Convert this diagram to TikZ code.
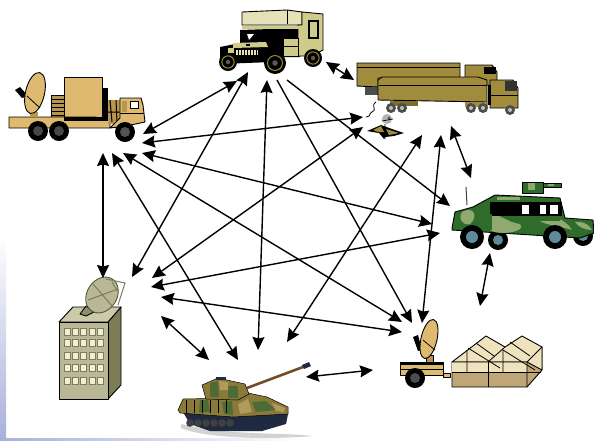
\documentclass[tikz,border=0pt]{standalone}
\usetikzlibrary{arrows.meta}
\definecolor{tan1}{HTML}{DDBA70}
\definecolor{tan2}{HTML}{B8964F}
\definecolor{olive1}{HTML}{A08C3C}
\definecolor{olive2}{HTML}{7F6E2A}
\definecolor{bld}{HTML}{B9B896}
\definecolor{bldtop}{HTML}{CBCBAC}
\definecolor{bldside}{HTML}{7C7C58}
\definecolor{pale}{HTML}{E6E2B8}
\definecolor{khaki}{HTML}{CFCB8A}
\definecolor{camoD}{HTML}{2F6B2A}
\definecolor{camoL}{HTML}{8FA96E}
\definecolor{tent}{HTML}{EFE3BD}
\definecolor{tentlow}{HTML}{BFA676}
\definecolor{tankBr}{HTML}{8A7A3A}
\definecolor{tankG}{HTML}{4F6B35}
\definecolor{tankL}{HTML}{B09A5C}
\definecolor{tankT}{HTML}{1F2A40}
\definecolor{hubblue}{HTML}{5F8A9C}
\definecolor{sideblue}{HTML}{A8B0DA}
\newcommand{\wheelat}[4]{\fill[black] (#1,#2) circle (#3); \fill[#4] (#1,#2) circle (#3*0.5);}
\newcommand{\rimwheel}[3]{\fill[black] (#1,#2) circle (#3); \draw[olive1,line width=1pt] (#1,#2) circle (#3*0.68); \fill[black!65] (#1,#2) circle (#3*0.25);}
\tikzset{
  link/.style={line width=1.4pt,{Stealth[length=13pt,width=12pt,inset=1.5pt]}-{Stealth[length=13pt,width=12pt,inset=1.5pt]}},
  oneway/.style={line width=1.4pt,-{Stealth[length=13pt,width=12pt,inset=1.5pt]}},
  ol/.style={draw=black,line width=0.9pt,line join=round},
}
\begin{document}
\begin{tikzpicture}[x=1pt,y=-1pt]
\useasboundingbox (0,0) rectangle (594,440);
\fill[white] (0,0) rectangle (594,440);
% side fade of the slide
\shade[top color=white,bottom color=sideblue] (0,235) rectangle (6,440);
\shade[left color=sideblue,right color=white] (0,438) rectangle (300,440);

% ---------- radar truck ----------
\fill[black] (102,88) rectangle (108,117);
\fill[tan2,ol] (51,95) rectangle (64,117);
\foreach \yy in {99,103,107,111,115} \draw[black,line width=0.8pt] (51,\yy) -- (64,\yy);
\fill[tan1,ol] (64,77) rectangle (102,117);
\fill[tan1,ol] (9,117) -- (95,117) -- (110,120) -- (110,128) -- (9,128) -- cycle;
\fill[black] (64,117) rectangle (108,121);
\fill[tan2] (108,100) rectangle (120,124);
\draw[black,line width=1pt] (110,100) -- (112,122) (116,100) -- (117,122) (108,112) -- (120,112);
\fill[tan1,ol] (120,98) -- (141,98) -- (143,105) -- (145,122) -- (126,126) -- (110,128) -- (120,118) -- cycle;
\fill[white,ol] (130,101) rectangle (138,108);
\fill[tan2] (122,101) rectangle (127,112);
\draw[black,line width=0.8pt] (120,113) -- (144,113);
\fill[black] (15,90) -- (20,87) -- (28,96) -- (22,98) -- cycle;
\fill[tan2] (30,112) rectangle (38,117);
\fill[tan1,ol,rotate around={-13:(35,93)}] (35,93) ellipse (9.5 and 21);
\draw[black,line width=0.8pt] (27,96) -- (40,108);
\wheelat{38}{131}{10}{gray!55!black}
\wheelat{59}{131}{10}{gray!55!black}
\wheelat{125}{132}{10}{gray!65!black}

% ---------- command truck ----------
\fill[black] (240,30) -- (300,28) -- (300,57) -- (240,57) -- cycle;
\fill[pale,ol] (242,12) -- (287,10) -- (302,12) -- (302,25) -- (242,25) -- cycle;
\draw[black,line width=0.8pt] (287,10) -- (287,24);
\fill[khaki,ol] (302,12) -- (323,14) -- (323,50) -- (312,56) -- (298,56) -- (298,25) -- (302,25) -- cycle;
\fill[khaki,draw=black,line width=1.2pt] (309,21) rectangle (318,38);
\fill[khaki] (242,26) rectangle (300,29);
\fill[white] (247,34) -- (254,34) -- (249,40) -- cycle;
\fill[black] (220,47) -- (240,43) -- (272,42) -- (272,62) -- (220,64) -- cycle;
\fill[khaki] (233,43) -- (266,42) -- (268,47) -- (233,48) -- cycle;
\fill[black] (246,44) rectangle (250,46);
\fill[pale] (236,50) rectangle (258,55);
\foreach \xx in {238,241,244,247,250,253,256} \draw[black,line width=0.6pt] (\xx,50) -- (\xx,55);
\fill[khaki] (228,48) rectangle (234,53);
\fill[khaki] (283,38) rectangle (298,56);
\draw[black,line width=0.8pt] (283,38) rectangle (298,56) (283,46) -- (298,46);
\rimwheel{228}{62}{9}
\rimwheel{275}{63}{11}
\rimwheel{313}{58}{9}

% ---------- double trailer truck ----------
\fill[olive1,ol] (465,65) -- (492,65) -- (497,72) -- (497,85) -- (465,85) -- cycle;
\fill[black] (484,67) rectangle (496,74);
\fill[olive1,ol] (357,63) -- (460,63) -- (460,78) -- (378,78) -- (378,87) -- (357,86) -- cycle;
\draw[black,line width=0.8pt] (357,67) -- (460,67);
\fill[gray!60!black] (365,87) rectangle (378,95);
\fill[olive1,ol] (490,80) -- (513,80) -- (518,88) -- (518,108) -- (490,108) -- cycle;
\fill[black!80] (505,81) rectangle (517,91);
\fill[black] (488,85) -- (491,85) -- (491,105) -- (488,105) -- cycle;
\draw[black,line width=0.8pt] (490,95) -- (518,95);
\fill[olive1,ol] (378,80) -- (382,77) -- (478,77) -- (487,80) -- (487,102) -- (378,100) -- cycle;
\draw[black,line width=0.8pt] (379,85) -- (487,85);
\fill[olive2] (390,101) rectangle (418,106);
\fill[olive1] (465,102) rectangle (488,107);
\foreach \xx/\yy in {391/108,402/108,471/108,483/108,510/110}{\fill[black!70] (\xx,\yy) circle (5); \fill[gray!50] (\xx,\yy) circle (2);}
\draw[black,line width=0.8pt] (376,102) .. controls (370,106) and (378,110) .. (372,112) .. controls (368,114) and (372,116) .. (366,117);

% ---------- small aircraft ----------
\fill[black] (367,131) -- (381,125) -- (392,129) -- (404,133) -- (394,136) -- (385,137) -- (384,139) -- (379,133) -- cycle;
\fill[olive1] (373,130) -- (381,126) -- (384,132) -- (378,132) -- cycle;
\fill[olive1] (386,129) -- (399,133) -- (389,135) -- cycle;
\fill[gray!60] (387,119) circle (5);
\fill[black!70] (389,118) circle (1.5);
\draw[black,line width=0.7pt] (382,121) -- (393,119) (385,139) -- (385,124);

% ---------- humvee ----------
\draw[gray!50!black,line width=1pt] (466,187) -- (467,205);
\fill[camoD,ol] (522,182) rectangle (543,193);
\fill[camoL] (528,183) rectangle (535,190);
\fill[camoD,ol] (543,183) rectangle (561,187);
\fill[camoL] (548,184) rectangle (554,186);
\wheelat{498}{240}{10}{hubblue}
\wheelat{583}{236}{10}{hubblue}
\fill[camoD,ol] (452,228) -- (455,212) -- (473,207) -- (495,195) -- (560,198) -- (565,218) -- (593,220) -- (594,233) -- (580,238) -- (452,230) -- cycle;
\begin{scope}
\clip (452,228) -- (455,212) -- (473,207) -- (495,195) -- (560,198) -- (565,218) -- (593,220) -- (594,233) -- (580,238) -- (452,230) -- cycle;
\fill[camoL] (462,212) .. controls (475,205) and (478,218) .. (470,224) .. controls (462,226) and (458,218) .. (462,212) -- cycle;
\fill[camoL] (488,216) .. controls (500,212) and (505,222) .. (520,224) .. controls (528,232) and (498,236) .. (490,230) -- cycle;
\fill[camoL] (535,218) .. controls (550,214) and (565,218) .. (572,230) .. controls (560,226) and (545,226) .. (535,218) -- cycle;
\fill[camoL] (497,197) rectangle (520,200);
\fill[camoL] (575,222) .. controls (585,221) and (590,226) .. (592,230) .. controls (585,230) and (578,227) .. (575,222) -- cycle;
\end{scope}
\fill[black] (490,202) rectangle (562,216);
\fill[camoD] (510,216) rectangle (560,221);
\fill[camoD] (488,214) rectangle (492,230);
\fill[white] (522,205) rectangle (529,214);
\fill[white] (540,205) rectangle (546,214);
\fill[white] (550,205) rectangle (558,214);
\wheelat{472}{237}{12}{hubblue}
\wheelat{555}{237}{12}{hubblue}

% ---------- building with dish ----------
\fill[bldside,ol] (108,322) -- (121,307) -- (121,385) -- (108,399) -- cycle;
\fill[bldtop,ol] (59,322) -- (73,307) -- (121,307) -- (108,322) -- cycle;
\fill[bld,ol] (59,322) rectangle (108,399);
\foreach \yy in {331.7,343.3,356,368.3,380.7}
  \foreach \xx in {67,75.3,83.7,92,100.7}
    \fill[pale!60!white,draw=bldside,line width=0.7pt] (\xx-3,\yy-3.5) rectangle (\xx+3,\yy+3.5);
\fill[bldside!70!bld,ol] (80,314) -- (86,306) -- (94,312) -- (86,316) -- cycle;
\fill[bld,draw=bldside!70!black,line width=0.9pt,rotate around={-33:(102,295)}] (102,295) ellipse (15 and 19);
\draw[bldside,line width=1pt] (93,284) -- (113,307) (88,300) -- (118,289);
\draw[bldside,line width=1pt] (106,279) -- (125,283) -- (118,305) (112,282) -- (118,292);

% ---------- tank ----------
\fill[gray!35] (181,424) .. controls (230,436) and (280,432) .. (313,436) .. controls (280,439) and (210,440) .. (181,428) -- cycle;
\draw[brown!60!black,line width=2.6pt] (247,388) -- (303,367);
\fill[tankT] (302,365) -- (309,362) -- (311,366) -- (304,369) -- cycle;
\fill[tankT] (183,412) -- (288,414) -- (286,424) -- (262,431) -- (210,431) -- (190,424) -- cycle;
\foreach \xx in {190,198,206,214,222,230} \fill[black!75] (\xx,423) circle (3.8);
\fill[tankBr,draw=black,line width=0.5pt] (178,410) -- (183,399) -- (235,398) -- (248,393) -- (267,397) -- (288,407) -- (288,414) -- (233,417) -- (180,413) -- cycle;
\fill[tankG] (200,400) -- (208,400) -- (210,412) -- (199,412) -- cycle;
\fill[tankG] (222,402) -- (232,401) -- (233,415) -- (224,414) -- cycle;
\fill[tankG] (252,402) -- (266,401) -- (276,410) -- (256,412) -- cycle;
\fill[tankL] (238,404) -- (248,399) -- (252,412) -- (240,414) -- cycle;
\fill[tankL] (272,403) -- (285,408) -- (284,412) -- (276,411) -- cycle;
\fill[tankBr,draw=black,line width=0.5pt] (202,385) -- (218,378) -- (245,384) -- (249,394) -- (238,400) -- (206,399) -- cycle;
\fill[tankG] (210,383) -- (218,381) -- (219,397) -- (210,397) -- cycle;
\fill[tankG] (228,386) -- (238,386) -- (238,398) -- (228,398) -- cycle;
\fill[tankL] (219,381) -- (228,382) -- (228,390) -- (220,390) -- cycle;
\fill[tankT] (216,377) rectangle (226,380);
\foreach \xx in {186,194,202,210,218,226} \draw[black,line width=0.6pt] (\xx,400) -- (\xx,413);

% ---------- antenna trailer ----------
\fill[black] (413,337) -- (418,335) -- (422,350) -- (418,351) -- cycle;
\fill[tan2,ol] (426,355) -- (433,355) -- (433,364) -- (426,364) -- cycle;
\fill[tan1,ol,rotate around={-13:(429,339)}] (429,339) ellipse (8 and 20);
\draw[black,line width=0.7pt] (423,340) -- (435,350);
\fill[tan1,ol] (400,362) rectangle (443,375);
\fill[black] (400,362) rectangle (443,365);
\fill[black] (400,369) rectangle (443,370);
\fill[tan1,ol] (443,373) rectangle (450,377);
\wheelat{415}{378}{10}{black!70}

% ---------- tent shelter ----------
\fill[tentlow,ol] (452,362) -- (452,387) -- (527,387) -- (542,370) -- (542,347) -- (527,362) -- cycle;
\fill[tent,ol] (452,362) -- (486,336) -- (505,347) -- (522,336) -- (542,347) -- (542,370) -- (527,362) -- cycle;
\fill[tent] (452,362) rectangle (527,372);
\draw[black,line width=0.8pt] (452,362) -- (527,362) -- (527,387) (527,362) -- (542,347);
\draw[black,line width=0.8pt] (452,372) -- (541,372) (488,362) -- (488,387);
\draw[black,line width=0.8pt] (468,348) -- (500,368) (503,350) -- (535,370) (476,343) -- (494,356) (510,342) -- (530,356);
\draw[black,line width=0.8pt] (505,347) -- (488,362) (467,350) -- (467,372) (503,350) -- (503,372);

% ---------- connector ends ----------
\coordinate (radarE)   at (143,134);
\coordinate (radarF)   at (142,143);
\coordinate (radarG)   at (142,153);
\coordinate (radarH)   at (123,153);
\coordinate (radarI)   at (112,153);
\coordinate (radarJ)   at (103,153);
\coordinate (cmdA)     at (237,81);
\coordinate (cmdB)     at (248,72);
\coordinate (cmdC)     at (267,80);
\coordinate (cmdD)     at (277,80);
\coordinate (cmdE)     at (287,80);
\coordinate (cmdF)     at (326,62);
\coordinate (trailA)   at (354,80);
\coordinate (planeA)   at (363,117);
\coordinate (planeB)   at (363,127);
\coordinate (trailB)   at (422,135);
\coordinate (trailC)   at (441,135);
\coordinate (trailD)   at (451,126);
\coordinate (humA)     at (471,178);
\coordinate (humB)     at (450,206);
\coordinate (humC)     at (432,224);
\coordinate (humD)     at (440,233);
\coordinate (humE)     at (490,253);
\coordinate (tentA)    at (480,306);
\coordinate (antA)     at (412,323);
\coordinate (antB)     at (422,323);
\coordinate (antC)     at (402,322);
\coordinate (antD)     at (402,332);
\coordinate (antE)     at (373,370);
\coordinate (tankA)    at (306,377);
\coordinate (tankB)    at (287,342);
\coordinate (tankC)    at (258,350);
\coordinate (tankD)    at (238,360);
\coordinate (tankE)    at (209,360);
\coordinate (bldA)     at (103,278);
\coordinate (bldB)     at (132,277);
\coordinate (bldC)     at (152,278);
\coordinate (bldD)     at (151,287);
\coordinate (bldE)     at (161,297);
\coordinate (bldF)     at (161,316);

% ---------- connectors ----------
\draw[link] (radarE) -- (cmdA);
\draw[link] (cmdB) -- (bldB);
\draw[link] (cmdC) -- (tankC);
\draw[oneway] (cmdD) -- (antA);
\draw[oneway] (cmdE) -- (humB);
\draw[link] (radarF) -- (planeA);
\draw[link] (radarG) -- (humC);
\draw[link] (radarH) -- (antC);
\draw[link] (radarI) -- (tankD);
\draw[link] (radarJ) -- (bldA);
\draw[link] (planeB) -- (bldC);
\draw[link] (humD) -- (bldD);
\draw[link] (bldE) -- (antD);
\draw[link] (bldF) -- (tankE);
\draw[link] (tankA) -- (antE);
\draw[link] (tankB) -- (trailB);
\draw[link] (trailC) -- (antB);
\draw[link] (trailD) -- (humA);
\draw[link] (humE) -- (tentA);
\draw[link] (cmdF) -- (trailA);
\end{tikzpicture}
\end{document}
